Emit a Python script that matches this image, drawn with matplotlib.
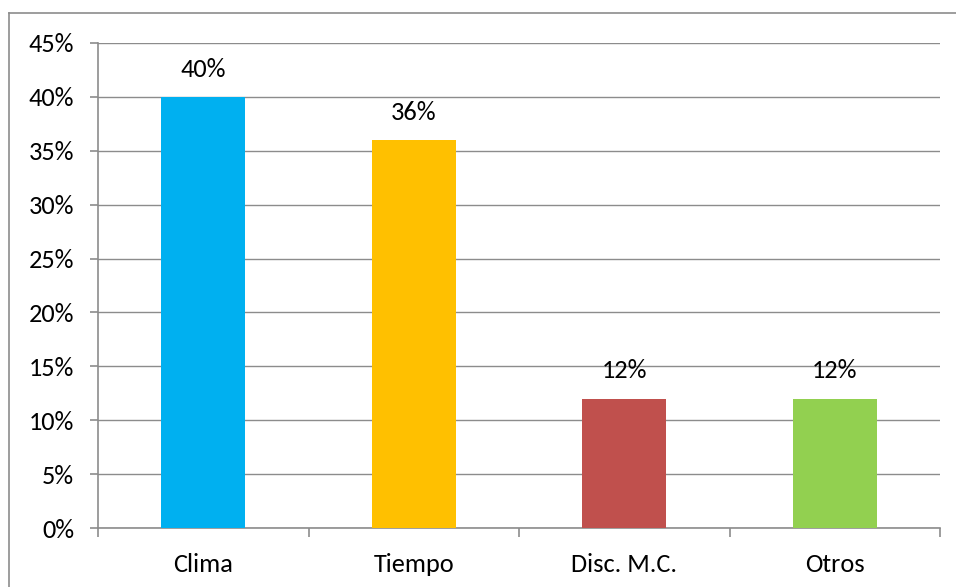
import matplotlib.pyplot as plt
from matplotlib.lines import Line2D
from matplotlib.ticker import FixedLocator

categories = ['Clima', 'Tiempo', 'Disc. M.C.', 'Otros']
values = [40, 36, 12, 12]
colors = ['#00B0F0', '#FFC000', '#C0504D', '#92D050']
yticks = [0, 5, 10, 15, 20, 25, 30, 35, 40, 45]

plt.rcParams['font.family'] = ['Carlito', 'Lato', 'DejaVu Sans']

fig = plt.figure(figsize=(9.56, 5.87), dpi=100)
ax = fig.add_axes([98 / 956, 1 - 528 / 587, 842 / 956, 485 / 587])

x = range(len(categories))
ax.bar(x, values, width=0.4, color=colors, zorder=3)

for i, v in enumerate(values):
    ax.text(i, v + 1.5, f'{v}%', ha='center', va='bottom', fontsize=19)

grid_color = '#8c8c8c'
ax.set_ylim(0, 45)
ax.set_xlim(-0.5, len(categories) - 0.5)
ax.set_yticks(yticks)
ax.set_yticklabels([f'{t}%' for t in yticks], fontsize=19)
ax.yaxis.grid(True, color=grid_color, linewidth=1, zorder=0)

# category labels centred, tick marks at category boundaries
ax.set_xticks(list(x))
ax.set_xticklabels(categories, fontsize=19)
ax.tick_params(axis='x', length=0, pad=18)
ax.xaxis.set_minor_locator(FixedLocator([i - 0.5 for i in range(len(categories) + 1)]))
ax.tick_params(axis='x', which='minor', length=6.5, color=grid_color, width=1.2)
ax.tick_params(axis='y', length=6, color=grid_color, width=1.2, pad=11)

for side in ['top', 'right']:
    ax.spines[side].set_visible(False)
for side in ['left', 'bottom']:
    ax.spines[side].set_color(grid_color)
    ax.spines[side].set_linewidth(1.2)

# outer chart border (top and left visible)
fig.add_artist(Line2D([9 / 956, 9 / 956], [0, 1 - 13 / 587], transform=fig.transFigure,
                      color='#8c8c8c', linewidth=1.2))
fig.add_artist(Line2D([9 / 956, 1], [1 - 13 / 587, 1 - 13 / 587], transform=fig.transFigure,
                      color='#8c8c8c', linewidth=1.2))

fig.savefig('out.png', dpi=100)
